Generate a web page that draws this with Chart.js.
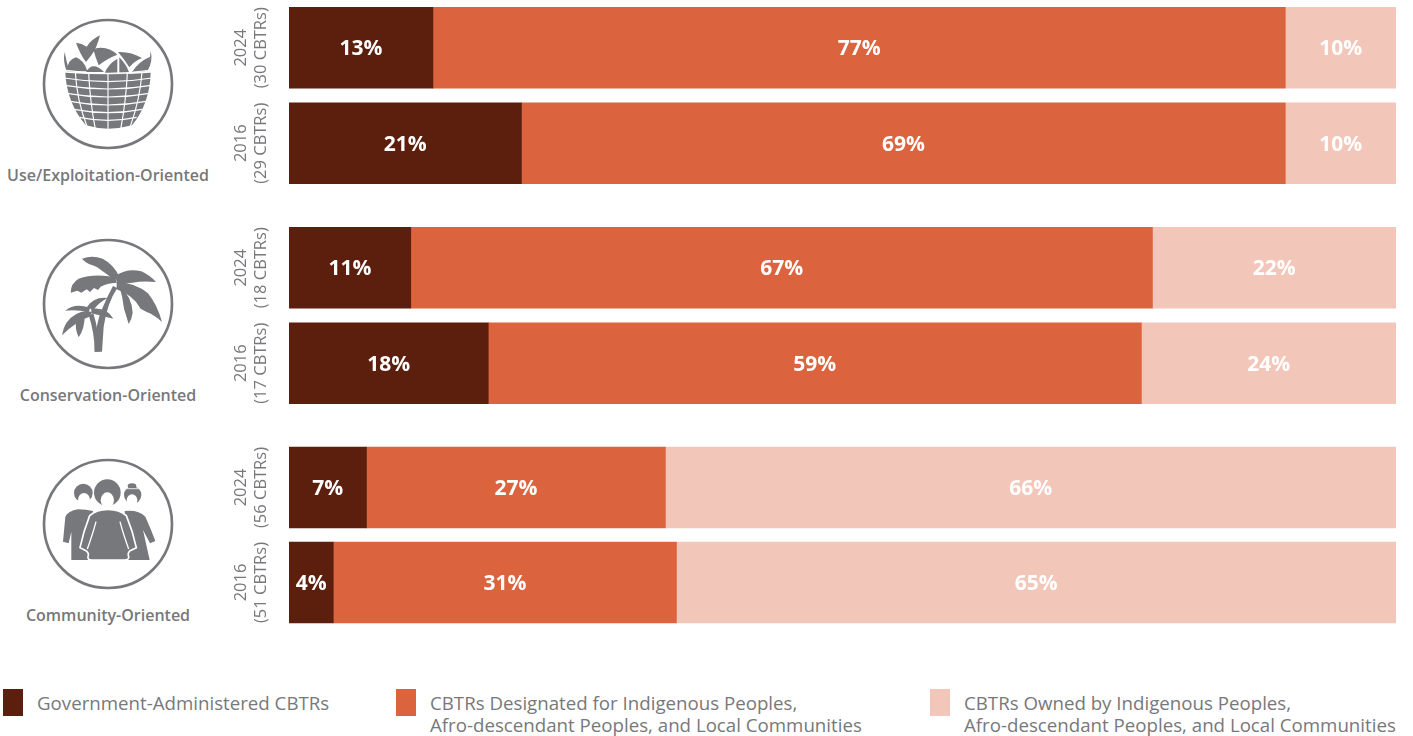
<!DOCTYPE html>
<html>
<head>
<meta charset="utf-8">
<title>CBTR tenure by orientation</title>
<script src="https://cdn.jsdelivr.net/npm/chart.js@4"></script>
<style>
  html, body { margin: 0; padding: 0; background: #fff; }
  body { position: relative; width: 1413px; height: 736px; overflow: hidden; font-family: 'Open Sans', sans-serif; color: #77787b; }
  .panel { position: absolute; left: 220px; width: 1176px; }
  .panel canvas { display: block; }
  .icon { position: absolute; left: 0; width: 216px; height: 150px; }
  .group-name { position: absolute; left: 0; width: 216px; text-align: center; font-size: 16px; font-weight: 600; line-height: 22px; white-space: nowrap; }
  .swatch { position: absolute; top: 689px; width: 20px; height: 27px; }
  .legend-text { position: absolute; top: 692px; font-size: 18.7px; line-height: 22px; white-space: pre; }
</style>
</head>
<body>

<!-- basket -->
<svg class="icon" style="top:10px" viewBox="0 30 648 450">
  <circle cx="324" cy="252" r="192" fill="none" stroke="#77787b" stroke-width="8"/>
  <g transform="translate(174 84)">
    <g fill="#77787b">
      <path d="M54 44 Q72 46 86 56 Q100 34 126 22 Q116 62 100 82 L84 102 Q66 78 54 44Z"/>
      <path d="M28 130 Q26 96 54 88 Q80 98 88 130Z"/>
      <path d="M106 64 Q145 50 178 80 Q146 92 122 112 Q112 88 106 64Z"/>
      <path d="M84 132 Q104 98 138 132Z"/>
      <path d="M140 136 Q148 110 178 92 L178 136Z"/>
      <path d="M180 72 Q218 70 252 90 Q228 100 214 118 Q198 92 180 72Z"/>
      <path d="M184 136 Q184 108 184 88 Q206 110 214 136Z"/>
      <path d="M222 132 Q240 102 276 86 Q274 110 262 130Z"/>
      <path d="M20 72 Q14 100 26 130 L33 126 Q25 100 20 72Z"/>
      <path d="M278 68 Q286 100 268 130 L261 126 Q277 100 278 68Z"/>
      <path d="M22 134 Q150 144 278 134 Q276 225 222 292 Q150 312 84 292 Q26 225 22 134Z"/>
    </g>
    <g fill="none" stroke="#fff" stroke-width="3.5">
      <path d="M18 126 Q150 146 282 126"/>
      <path d="M18 150 Q150 172 282 150"/>
      <path d="M20 172 Q150 194 280 172"/>
      <path d="M26 196 Q150 218 274 196"/>
      <path d="M36 220 Q150 242 264 220"/>
      <path d="M48 244 Q150 264 252 244"/>
      <path d="M64 268 Q150 286 236 268"/>
      <path d="M52 132 Q56 215 88 298"/>
      <path d="M92 135 Q96 220 112 304"/>
      <path d="M150 138 L150 310"/>
      <path d="M208 135 Q204 220 188 304"/>
      <path d="M252 132 Q246 215 216 298"/>
    </g>
  </g>
</svg>

<!-- palms -->
<svg class="icon" style="top:230px" viewBox="0 30 648 450">
  <circle cx="324" cy="252" r="192" fill="none" stroke="#77787b" stroke-width="8"/>
  <g transform="translate(174 90)" fill="#77787b">
    <path d="M72 26 Q102 14 134 26 Q168 44 184 80 L168 90 Q150 74 132 62 Q118 50 104 46 Q84 40 72 26Z"/>
    <path d="M38 128 Q38 100 62 86 Q110 70 172 82 L176 98 Q146 100 128 110 L120 120 L108 114 L96 126 L86 118 L70 128 L58 122Z"/>
    <path d="M172 78 Q206 54 250 64 Q276 76 294 96 Q252 92 224 98 Q198 100 178 104Z"/>
    <path d="M176 96 Q232 98 270 130 Q298 165 312 216 Q288 194 266 186 L248 176 Q226 136 176 118Z"/>
    <path d="M184 108 Q222 140 224 188 Q222 206 212 222 Q204 194 198 176 Q194 140 184 108Z"/>
    <path d="M165 108 L178 114 Q147 160 137 230 L132 305 L110 305 Q108 230 135 170 Q150 135 165 108Z"/>
    <path d="M92 195 L106 190 Q122 240 124 305 L110 305 Q110 250 92 195Z"/>
    <path d="M22 182 Q50 158 96 174 L92 188 Q60 178 22 182Z"/>
    <path d="M86 172 Q108 138 150 144 Q126 154 106 180Z"/>
    <path d="M100 176 Q146 170 166 206 Q130 198 100 190Z"/>
    <path d="M12 256 Q18 212 55 192 Q75 180 102 186 L94 200 Q56 212 12 256Z"/>
    <path d="M54 210 L80 198 Q80 236 62 262 Q50 236 54 210Z"/>
  </g>
</svg>

<!-- people -->
<svg class="icon" style="top:450px" viewBox="0 30 648 450">
  <circle cx="324" cy="252" r="192" fill="none" stroke="#77787b" stroke-width="8"/>
  <g transform="translate(174 105)">
    <g fill="#77787b">
      <circle cx="76" cy="54" r="28"/>
      <circle cx="224" cy="60" r="26"/>
      <ellipse cx="222" cy="33" rx="13" ry="8"/>
      <path d="M22 125 Q30 108 60 103 Q85 103 105 108 L100 200 L90 255 L40 255 L40 170 Q36 185 32 205 L15 200Z"/>
      <path d="M200 108 Q240 103 262 125 Q280 165 292 198 L276 205 L255 165 L275 255 L210 255Z"/>
    </g>
    <g fill="#fff">
      <ellipse cx="78" cy="75" rx="18" ry="21"/>
      <ellipse cx="222" cy="76" rx="16" ry="18"/>
      <rect x="200" y="40" width="44" height="2.5"/>
    </g>
    <circle cx="148" cy="53" r="40" fill="#77787b"/>
    <ellipse cx="148" cy="76" rx="20" ry="24" fill="#fff"/>
    <path d="M150 103 Q185 103 205 122 Q225 170 235 218 L215 228 Q208 235 212 245 Q214 255 198 255 L102 255 Q88 255 90 245 Q94 235 85 228 L66 218 Q76 170 95 122 Q115 103 150 103Z" fill="#77787b" stroke="#fff" stroke-width="5"/>
    <g fill="none" stroke="#fff" stroke-width="4">
      <path d="M114 140 Q105 175 88 222"/>
      <path d="M186 140 Q195 175 212 222"/>
    </g>
  </g>
</svg>

<div class="group-name" id="group-name-0" style="top:164px"></div>
<div class="group-name" id="group-name-1" style="top:384px"></div>
<div class="group-name" id="group-name-2" style="top:604px"></div>

<div class="panel" style="top:0"><canvas id="panel-0" width="1176" height="191"></canvas></div>
<div class="panel" style="top:220px"><canvas id="panel-1" width="1176" height="191"></canvas></div>
<div class="panel" style="top:440px"><canvas id="panel-2" width="1176" height="190"></canvas></div>

<div id="legend"></div>

<script>
'use strict';

const groupNames = ['Use/Exploitation-Oriented', 'Conservation-Oriented', 'Community-Oriented'];

// two bars per group, newest first
const rowYears  = ['2024', '2016', '2024', '2016', '2024', '2016'];
const rowCounts = ['(30 CBTRs)', '(29 CBTRs)', '(18 CBTRs)', '(17 CBTRs)', '(56 CBTRs)', '(51 CBTRs)'];

const governmentShare = [13, 21, 11, 18, 7, 4];
const designatedShare = [77, 69, 67, 59, 27, 31];
const ownedShare      = [10, 10, 22, 24, 66, 65];

const seriesNames = [
  'Government-Administered CBTRs',
  'CBTRs Designated for Indigenous Peoples,\nAfro-descendant Peoples, and Local Communities',
  'CBTRs Owned by Indigenous Peoples,\nAfro-descendant Peoples, and Local Communities'
];
const seriesColors = ['#5c1f0d', '#db633d', '#f3c6ba'];

const FONT = "'Open Sans', sans-serif";

// percent labels inside each segment, centred on the part that is visible
const segmentLabels = {
  id: 'segmentLabels',
  afterDatasetsDraw(chart) {
    const { ctx, chartArea } = chart;
    ctx.save();
    ctx.font = `700 21px ${FONT}`;
    ctx.fillStyle = '#fff';
    ctx.textAlign = 'center';
    ctx.textBaseline = 'middle';
    chart.data.datasets.forEach((ds, i) => {
      chart.getDatasetMeta(i).data.forEach((bar, j) => {
        const right = Math.min(bar.x, chartArea.right);
        ctx.fillText(ds.data[j] + '%', (bar.base + right) / 2, bar.y + 1.5);
      });
    });
    ctx.restore();
  }
};

// rotated year / count labels left of the bars
const rowLabels = {
  id: 'rowLabels',
  afterDraw(chart) {
    const { ctx, scales } = chart;
    ctx.save();
    ctx.font = `400 16.5px ${FONT}`;
    ctx.fillStyle = '#77787b';
    ctx.textAlign = 'center';
    ctx.textBaseline = 'middle';
    chart.data.labels.forEach((lines, i) => {
      const y = scales.y.getPixelForTick(i);
      lines.forEach((line, k) => {
        ctx.save();
        ctx.translate(21.5 + k * 20, y);
        ctx.rotate(-Math.PI / 2);
        ctx.fillText(line, 0, 0);
        ctx.restore();
      });
    });
    ctx.restore();
  }
};

function buildPanel(group) {
  const from = group * 2;
  const pick = arr => arr.slice(from, from + 2);
  const labels = pick(rowYears).map((year, i) => [year, pick(rowCounts)[i]]);
  const shares = [governmentShare, designatedShare, ownedShare];

  new Chart(document.getElementById('panel-' + group), {
    type: 'bar',
    data: {
      labels,
      datasets: shares.map((data, i) => ({
        label: seriesNames[i],
        data: pick(data),
        backgroundColor: seriesColors[i],
        borderWidth: 0,
        barThickness: 81
      }))
    },
    options: {
      indexAxis: 'y',
      responsive: false,
      animation: false,
      layout: { padding: { left: 69 } },
      plugins: { legend: { display: false }, tooltip: { enabled: false } },
      scales: {
        x: { stacked: true, min: 0, max: 100, display: false },
        y: { stacked: true, display: false }
      }
    },
    plugins: [segmentLabels, rowLabels]
  });
}

groupNames.forEach((name, i) => {
  document.getElementById('group-name-' + i).textContent = name;
});

const swatchLeft = [3, 396, 930];
const legend = document.getElementById('legend');
seriesNames.forEach((name, i) => {
  const swatch = document.createElement('div');
  swatch.className = 'swatch';
  swatch.style.left = swatchLeft[i] + 'px';
  swatch.style.background = seriesColors[i];
  legend.appendChild(swatch);

  const text = document.createElement('div');
  text.className = 'legend-text';
  text.style.left = (swatchLeft[i] + 34) + 'px';
  text.textContent = name;
  legend.appendChild(text);
});

groupNames.forEach((_, i) => buildPanel(i));
</script>
</body>
</html>
